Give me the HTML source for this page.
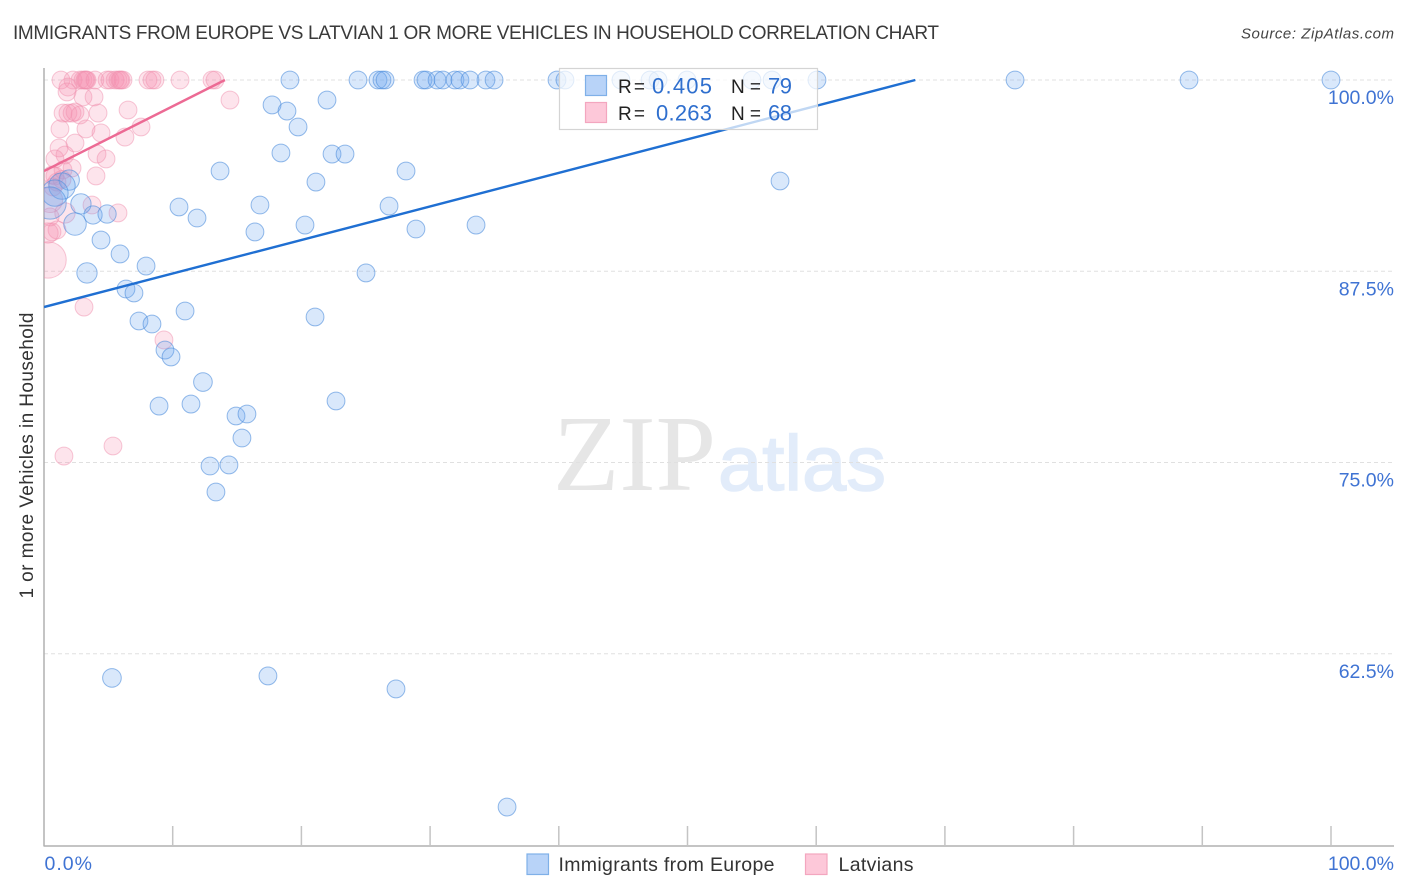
<!DOCTYPE html>
<html lang="en">
<head>
<meta charset="utf-8">
<title>Immigrants from Europe vs Latvian 1 or More Vehicles in Household Correlation Chart</title>
<style>
html,body{margin:0;padding:0;background:#fff;width:1406px;height:892px;overflow:hidden}
svg{display:block;font-family:"Liberation Sans",sans-serif}
</style>
</head>
<body>
<svg id="chart" xmlns="http://www.w3.org/2000/svg" width="1406" height="892" viewBox="0 0 1406 892">
  <defs><clipPath id="plot-clip"><rect x="44" y="60" width="1350" height="786"/></clipPath></defs>
  <text x="13" y="39" font-size="19" fill="#3a3a3a" textLength="926" lengthAdjust="spacing">IMMIGRANTS FROM EUROPE VS LATVIAN 1 OR MORE VEHICLES IN HOUSEHOLD CORRELATION CHART</text>
  <text x="1241" y="38.500" font-size="15" font-style="italic" fill="#444" textLength="153" lengthAdjust="spacing">Source: ZipAtlas.com</text>
  <g>
    <text x="553" y="490" font-family="'Liberation Serif',serif" font-size="108" fill="#e6e6e6" textLength="163" lengthAdjust="spacingAndGlyphs">ZIP</text>
    <text x="718" y="490" font-size="78" fill="#e2ecfa" stroke="#e2ecfa" stroke-width="1.500" textLength="168" lengthAdjust="spacingAndGlyphs">atlas</text>
  </g>
  <g id="grid"></g>
  <g id="axes"></g>
  <g id="marks" clip-path="url(#plot-clip)"></g>
  <text transform="translate(33,455.500) rotate(-90)" font-size="19" fill="#333" text-anchor="middle" textLength="286" lengthAdjust="spacing">1 or more Vehicles in Household</text>
  <g>
    <rect x="559.500" y="68.500" width="258" height="61" fill="#fff" fill-opacity="0.72" stroke="#d4d4d4" stroke-width="1.200"/>
    <rect x="585.500" y="75.500" width="21" height="20" fill="#b8d3f8" stroke="#7fb0e8" stroke-width="1.200"/>
    <rect x="585.500" y="102.500" width="21" height="20" fill="#fdc8d9" stroke="#f3a6bf" stroke-width="1.200"/>
    <text x="618" y="93" font-size="19" fill="#222" textLength="27" lengthAdjust="spacing">R =</text>
    <text x="652" y="93.500" font-size="22" fill="#2f6fce" textLength="60" lengthAdjust="spacing">0.405</text>
    <text x="731" y="93" font-size="19" fill="#222" textLength="30" lengthAdjust="spacing">N =</text>
    <text x="768" y="93.500" font-size="22" fill="#2f6fce" textLength="24" lengthAdjust="spacing">79</text>
    <text x="618" y="120" font-size="19" fill="#222" textLength="27" lengthAdjust="spacing">R =</text>
    <text x="656" y="120.500" font-size="22" fill="#2f6fce" textLength="56" lengthAdjust="spacing">0.263</text>
    <text x="731" y="120" font-size="19" fill="#222" textLength="30" lengthAdjust="spacing">N =</text>
    <text x="768" y="120.500" font-size="22" fill="#2f6fce" textLength="24" lengthAdjust="spacing">68</text>
  </g>
  <g>
    <rect x="527" y="854" width="21.500" height="20.500" fill="#b8d3f8" stroke="#7fb0e8" stroke-width="1.200"/>
    <text x="558.500" y="871" font-size="19.500" fill="#333" textLength="216" lengthAdjust="spacing">Immigrants from Europe</text>
    <rect x="805.500" y="854" width="21.500" height="20.500" fill="#fdc8d9" stroke="#f3a6bf" stroke-width="1.200"/>
    <text x="838.500" y="871" font-size="19.500" fill="#333" textLength="75" lengthAdjust="spacing">Latvians</text>
  </g>
</svg>
<script>
const xTicks = [0, 10, 20, 30, 40, 50, 60, 70, 80, 90, 100];
const yTicks = [100, 87.5, 75, 62.5];
const yTickLabels = ['100.0%', '87.5%', '75.0%', '62.5%'];
const xEndLabels = ['0.0%', '100.0%'];

const europeX = [19.11,24.40,25.95,26.26,26.50,29.45,29.68,30.54,31.00,31.93,32.32,33.10,34.34,34.97,39.86,40.48,44.83,47.09,47.71,49.96,55.01,56.57,60.06,75.45,88.97,100,
17.72,18.88,21.99,19.74,18.41,22.38,23.39,13.68,28.13,21.13,57.19,10.49,11.89,16.78,26.81,16.39,20.28,28.90,33.57,4.43,5.91,7.93,3.34,25.02,6.37,6.99,10.96,21.06,7.38,8.39,9.40,9.87,12.35,8.94,11.42,22.69,14.92,15.77,15.38,12.90,14.37,13.36,5.28,17.40,27.35,35.98,
1.96,1.40,0.85,0.47,2.87,3.81,4.90,2.41];
const europeY = [100,100,100,100,100,100,100,100,100,100,100,100,100,100,100,100,100,100,100,100,100,100,100,100,100,100,
98.37,97.97,98.69,96.93,95.23,95.16,95.16,94.05,94.05,93.33,93.40,91.70,90.98,91.83,91.76,90.07,90.52,90.26,90.52,89.54,88.63,87.84,87.39,87.39,86.34,86.08,84.90,84.51,84.25,84.05,82.35,81.90,80.26,78.69,78.82,79.02,78.04,78.17,76.60,74.77,74.84,73.07,60.92,61.05,60.20,52.48,
93.46,93.07,92.61,91.96,91.90,91.18,91.24,90.59];
const europeWeight = [1,1,1,1,1,1,1,1,1,1,1,1,1,1,1,1,1,1,1,1,1,1,1,1,1,1,
1,1,1,1,1,1,1,1,1,1,1,1,1,1,1,1,1,1,1,1,1,1,1.3,1,1,1,1,1,1,1,1,1,1.1,1,1,1,1,1,1,1,1,1,1.1,1,1,1,
1.3,2.2,2.2,3.3,1.3,1.05,1.05,1.6];

const latviansX = [1.32,2.25,2.80,3.03,3.19,3.26,3.34,3.96,4.90,5.13,5.52,5.75,5.90,5.98,6.14,8.08,8.39,8.62,10.57,13.05,13.29,
1.86,1.79,3.03,3.89,14.45,6.53,4.20,1.48,1.86,2.18,2.41,2.80,1.24,3.26,4.43,7.54,6.29,2.41,1.17,1.63,0.85,4.12,4.82,4.04,2.18,1.48,0.85,0.70,1.01,0.62,1.40,3.73,5.75,1.63,1.01,0.62,0.31,0.47,0.31,3.11,9.32,5.36,1.55,0.47];
const latviansY = [100,100,100,100,100,100,100,100,100,100,100,100,100,100,100,100,100,100,100,100,100,
99.54,99.22,98.89,98.89,98.69,98.04,97.84,97.84,97.84,97.84,97.91,97.71,96.80,96.80,96.54,96.93,96.27,95.88,95.56,95.10,94.84,95.16,94.84,93.73,94.25,94.12,93.73,93.01,93.33,93.79,93.50,91.83,91.31,91.31,90.20,90.07,90.00,91.05,88.24,85.16,83.01,76.08,75.42,92.16];
const latviansWeight = [1,1,1,1,1,1,1,1,1,1,1,1,1,1,1,1,1,1,1,1,1,
1,1,1,1,1,1,1,1,1,1,1,1,1,1,1,1,1,1,1,1,1,1,1,1,1,1,1,1,1,1,1,1,1,1.3,1,1,1.3,1,4.2,1,1,1,1,2];

const europeTrendX = [0, 67.7];
const europeTrendY = [85.16, 100];
const latviansTrendX = [0, 14.06];
const latviansTrendY = [94.05, 100];

const NS = 'http://www.w3.org/2000/svg';
const xScale = v => 44 + v * 12.87;
const yScale = v => 80 + (100 - v) * 15.3;
const radius = w => 8.9 * Math.sqrt(w);

function make(tag, attrs, parent, text) {
  const el = document.createElementNS(NS, tag);
  Object.keys(attrs).forEach(k => el.setAttribute(k, attrs[k]));
  if (text !== undefined) el.textContent = text;
  parent.appendChild(el);
  return el;
}

const grid = document.getElementById('grid');
const axes = document.getElementById('axes');
const marks = document.getElementById('marks');

yTicks.forEach((t, i) => {
  const y = yScale(t);
  const line = make('line', {x1: 44, x2: 1394, y1: y, y2: y, stroke: '#e0e0e0', 'stroke-width': 1, 'stroke-dasharray': '4 3'}, grid);
  
  
  const label = make('text', {x: 1394, y: y + 24, 'font-size': 19.5, fill: '#3f73d3', 'text-anchor': 'end'}, axes, yTickLabels[i]);
  
  
});

const yLine = make('line', {x1: 44, x2: 44, y1: 68, y2: 846.5, stroke: '#b0b0b0', 'stroke-width': 1.5}, axes);


const xLine = make('line', {x1: 44, x2: 1394, y1: 846, y2: 846, stroke: '#b0b0b0', 'stroke-width': 1.5}, axes);



xTicks.forEach(t => {
  if (t === 0) return;
  const x = xScale(t);
  const tick = make('line', {x1: x, x2: x, y1: 826, y2: 846, stroke: '#c4c4c4', 'stroke-width': 1.5}, axes);
  
  
});

const xLabelStart = make('text', {x: 44.5, y: 870, 'font-size': 19.5, fill: '#3f73d3', textLength: 47.5, lengthAdjust: 'spacing'}, axes, xEndLabels[0]);


const xLabelEnd = make('text', {x: 1394, y: 870, 'font-size': 19.5, fill: '#3f73d3', 'text-anchor': 'end'}, axes, xEndLabels[1]);



latviansX.forEach((v, i) => {
  const c = make('circle', {cx: xScale(v), cy: yScale(latviansY[i]), r: radius(latviansWeight[i]), fill: '#f78fb0', 'fill-opacity': 0.24, stroke: '#ef8fae', 'stroke-opacity': 0.5, 'stroke-width': 1}, marks);
  
  
});

europeX.forEach((v, i) => {
  const c = make('circle', {cx: xScale(v), cy: yScale(europeY[i]), r: radius(europeWeight[i]), fill: '#6ea8ee', 'fill-opacity': 0.26, stroke: '#4f8edc', 'stroke-opacity': 0.6, 'stroke-width': 1}, marks);
  
  
});

const europeTrend = make('line', {x1: xScale(europeTrendX[0]), y1: yScale(europeTrendY[0]), x2: xScale(europeTrendX[1]), y2: yScale(europeTrendY[1]), stroke: '#1f6fd2', 'stroke-width': 2.4}, marks);


const latviansTrend = make('line', {x1: xScale(latviansTrendX[0]), y1: yScale(latviansTrendY[0]), x2: xScale(latviansTrendX[1]), y2: yScale(latviansTrendY[1]), stroke: '#ec6a94', 'stroke-width': 2.4}, marks);


</script>
</body>
</html>
